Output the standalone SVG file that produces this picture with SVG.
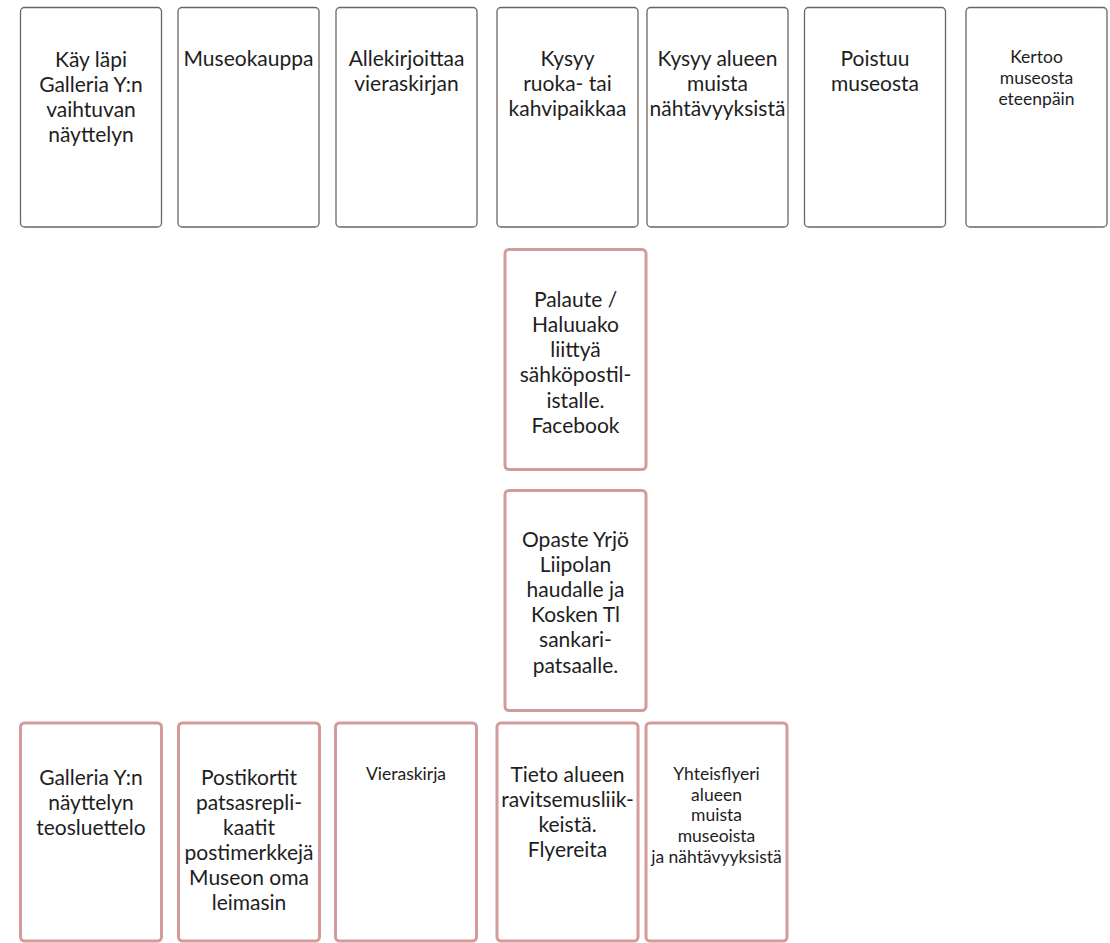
<svg xmlns="http://www.w3.org/2000/svg" width="1110" height="943" viewBox="0 0 1110 943">
  <style>
    .step { fill: #ffffff; stroke: #6e665e; stroke-width: 1.3; }
    .touch { fill: #ffffff; stroke: #d39b9c; stroke-width: 3; }
    text { font-family: Lato, "Noto Sans", "Liberation Sans", sans-serif; fill: #1e1e1e; text-anchor: middle; }
    .big { font-size: 21px; }
    .small { font-size: 17.5px; }
  </style>
  <rect width="1110" height="943" fill="#ffffff"/>

  <!-- customer actions -->
  <g id="step-galleria">
    <rect class="step" x="20.5" y="7.5" width="141" height="219.5" rx="4"/>
    <text class="big" x="91" y="67">Käy läpi</text>
    <text class="big" x="91" y="92">Galleria Y:n</text>
    <text class="big" x="91" y="117">vaihtuvan</text>
    <text class="big" x="91" y="142">näyttelyn</text>
  </g>
  <g id="step-museokauppa">
    <rect class="step" x="178" y="7.5" width="141" height="219.5" rx="4"/>
    <text class="big" x="248.5" y="66">Museokauppa</text>
  </g>
  <g id="step-vieraskirja">
    <rect class="step" x="336" y="7.5" width="141" height="219.5" rx="4"/>
    <text class="big" x="406.5" y="66">Allekirjoittaa</text>
    <text class="big" x="406.5" y="91">vieraskirjan</text>
  </g>
  <g id="step-ruoka">
    <rect class="step" x="497" y="7.5" width="141" height="219.5" rx="4"/>
    <text class="big" x="567.5" y="66">Kysyy</text>
    <text class="big" x="567.5" y="91">ruoka- tai</text>
    <text class="big" x="567.5" y="116">kahvipaikkaa</text>
  </g>
  <g id="step-nahtavyydet">
    <rect class="step" x="647" y="7.5" width="141" height="219.5" rx="4"/>
    <text class="big" x="717.5" y="66">Kysyy alueen</text>
    <text class="big" x="717.5" y="91">muista</text>
    <text class="big" x="717.5" y="116">nähtävyyksistä</text>
  </g>
  <g id="step-poistuu">
    <rect class="step" x="804.5" y="7.5" width="141" height="219.5" rx="4"/>
    <text class="big" x="875" y="66">Poistuu</text>
    <text class="big" x="875" y="91">museosta</text>
  </g>
  <g id="step-kertoo">
    <rect class="step" x="966" y="7.5" width="141" height="219.5" rx="4"/>
    <text class="small" x="1036.5" y="63">Kertoo</text>
    <text class="small" x="1036.5" y="84">museosta</text>
    <text class="small" x="1036.5" y="105">eteenpäin</text>
  </g>

  <!-- touchpoints -->
  <g id="touch-palaute">
    <rect class="touch" x="505" y="249.5" width="141" height="220" rx="4"/>
    <text class="big" x="575.5" y="307">Palaute /</text>
    <text class="big" x="575.5" y="332">Haluuako</text>
    <text class="big" x="575.5" y="357">liittyä</text>
    <text class="big" x="575.5" y="382">sähköpostil-</text>
    <text class="big" x="575.5" y="408">istalle.</text>
    <text class="big" x="575.5" y="433">Facebook</text>
  </g>
  <g id="touch-opaste">
    <rect class="touch" x="505" y="490.5" width="141" height="220" rx="4"/>
    <text class="big" x="575.5" y="547">Opaste Yrjö</text>
    <text class="big" x="575.5" y="572">Liipolan</text>
    <text class="big" x="575.5" y="597">haudalle ja</text>
    <text class="big" x="575.5" y="622">Kosken Tl</text>
    <text class="big" x="575.5" y="647">sankari-</text>
    <text class="big" x="575.5" y="673">patsaalle.</text>
  </g>
  <g id="touch-teosluettelo">
    <rect class="touch" x="20.5" y="723" width="141" height="218" rx="4"/>
    <text class="big" x="91" y="785">Galleria Y:n</text>
    <text class="big" x="91" y="810">näyttelyn</text>
    <text class="big" x="91" y="835">teosluettelo</text>
  </g>
  <g id="touch-postikortit">
    <rect class="touch" x="178.5" y="723" width="141" height="218" rx="4"/>
    <text class="big" x="249" y="785">Postikortit</text>
    <text class="big" x="249" y="810">patsasrepli-</text>
    <text class="big" x="249" y="835">kaatit</text>
    <text class="big" x="249" y="860">postimerkkejä</text>
    <text class="big" x="249" y="885">Museon oma</text>
    <text class="big" x="249" y="910">leimasin</text>
  </g>
  <g id="touch-vieraskirja">
    <rect class="touch" x="335.5" y="723" width="141" height="218" rx="4"/>
    <text class="small" x="406" y="780">Vieraskirja</text>
  </g>
  <g id="touch-ravitsemus">
    <rect class="touch" x="497" y="723" width="141" height="218" rx="4"/>
    <text class="big" x="567.5" y="782">Tieto alueen</text>
    <text class="big" x="567.5" y="807">ravitsemusliik-</text>
    <text class="big" x="567.5" y="832">keistä.</text>
    <text class="big" x="567.5" y="857">Flyereita</text>
  </g>
  <g id="touch-yhteisflyeri">
    <rect class="touch" x="646" y="723" width="141" height="218" rx="4"/>
    <text class="small" x="716.5" y="780">Yhteisflyeri</text>
    <text class="small" x="716.5" y="801">alueen</text>
    <text class="small" x="716.5" y="821">muista</text>
    <text class="small" x="716.5" y="842">museoista</text>
    <text class="small" x="716.5" y="863">ja nähtävyyksistä</text>
  </g>

  <!-- no connectors are drawn between the cards -->
  <g id="connectors"/>
</svg>
